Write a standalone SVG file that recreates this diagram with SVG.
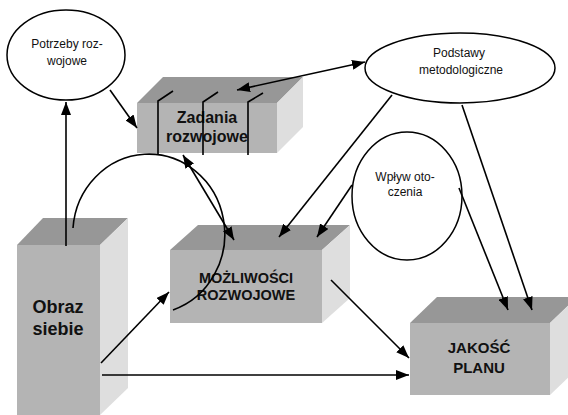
<svg xmlns="http://www.w3.org/2000/svg" width="568" height="415" viewBox="0 0 568 415">
<style>
.top{fill:#979797}
.front{fill:#b4b4b4}
.side{fill:#dedede}
.ell{fill:#ffffff;stroke:#000;stroke-width:1.5}
.t{font-family:"Liberation Sans",Arial,sans-serif;font-size:12px;fill:#111;text-anchor:middle}
.b{font-family:"Liberation Sans",Arial,sans-serif;font-weight:bold;fill:#111;text-anchor:middle}
.c{stroke:#000;stroke-width:1.6;fill:none}
.a{marker-end:url(#ah)}
.d{marker-start:url(#ah);marker-end:url(#ah)}
</style>
<defs>
<marker id="ah" markerUnits="userSpaceOnUse" markerWidth="14" markerHeight="10" refX="13" refY="5" orient="auto-start-reverse">
<path d="M0,0 L13,5 L0,10 z" fill="#000"/>
</marker>
</defs>
<rect width="568" height="415" fill="#fff"/>
<g id="obraz">
<polygon class="top" points="17,245 43,218 128,218 100,245"/>
<rect class="front" x="17" y="245" width="83" height="170"/>
<polygon class="side" points="100,245 128,218 128,388 100,415"/>
<text class="b" font-size="18" x="58" y="313">Obraz</text>
<text class="b" font-size="18" x="58" y="335">siebie</text>
</g>
<g id="zadania">
<polygon class="top" points="137,103 163,77 303,77 277,103"/>
<rect class="front" x="137" y="103" width="140" height="50"/>
<polygon class="side" points="277,103 303,77 303,127 277,153"/>
<text class="b" font-size="16" x="207" y="123">Zadania</text>
<text class="b" font-size="16" x="207" y="142">rozwojowe</text>
<polyline class="c" points="158,155 158,101 173,91"/>
<polyline class="c" points="203,155 203,102 218,92"/>
<polyline class="c" points="248,155 248,102 263,93"/>
</g>
<g id="mozliwosci">
<polygon class="top" points="170,250 198,225 350,225 322,250"/>
<rect class="front" x="170" y="250" width="152" height="73"/>
<polygon class="side" points="322,250 350,225 350,298 322,323"/>
<text class="b" font-size="14.5" x="246" y="283">MOŻLIWOŚCI</text>
<text class="b" font-size="14.5" x="246" y="300">ROZWOJOWE</text>
</g>
<g id="jakosc">
<polygon class="top" points="410,323 437,297 577,297 550,323"/>
<rect class="front" x="410" y="323" width="140" height="72"/>
<polygon class="side" points="550,323 577,297 577,369 550,395"/>
<text class="b" font-size="15" x="479" y="353">JAKOŚĆ</text>
<text class="b" font-size="15" x="479" y="373">PLANU</text>
</g>
<g id="potrzeby">
<ellipse class="ell" cx="66" cy="55" rx="59" ry="45"/>
<text class="t" x="67" y="48">Potrzeby roz-</text>
<text class="t" x="67" y="65">wojowe</text>
</g>
<g id="podstawy">
<ellipse class="ell" cx="460" cy="68" rx="95" ry="35"/>
<text class="t" x="459" y="57">Podstawy</text>
<text class="t" x="461" y="74">metodologiczne</text>
</g>
<g id="wplyw">
<ellipse class="ell" cx="407" cy="196" rx="55" ry="64"/>
<text class="t" x="405" y="181">Wpływ oto-</text>
<text class="t" x="405" y="196">czenia</text>
</g>
<g id="connectors">
<line class="c a" x1="110" y1="90" x2="137" y2="128"/>
<line class="c a" x1="66" y1="246" x2="66" y2="102"/>
<line class="c d" x1="237" y1="90" x2="365" y2="62"/>
<line class="c a" x1="392" y1="95" x2="279" y2="237"/>
<line class="c a" x1="352" y1="185" x2="317" y2="237"/>
<line class="c a" x1="462" y1="105" x2="532" y2="310"/>
<line class="c a" x1="459" y1="188" x2="508" y2="310"/>
<line class="c a" x1="101" y1="363" x2="169" y2="292"/>
<line class="c a" x1="102" y1="375" x2="409" y2="375"/>
<line class="c a" x1="331" y1="280" x2="409" y2="358"/>
<line class="c d" x1="183" y1="155" x2="234" y2="240"/>
<path class="c" d="M73,228 A76,80 0 1 1 173,310"/>
</g>
</svg>
